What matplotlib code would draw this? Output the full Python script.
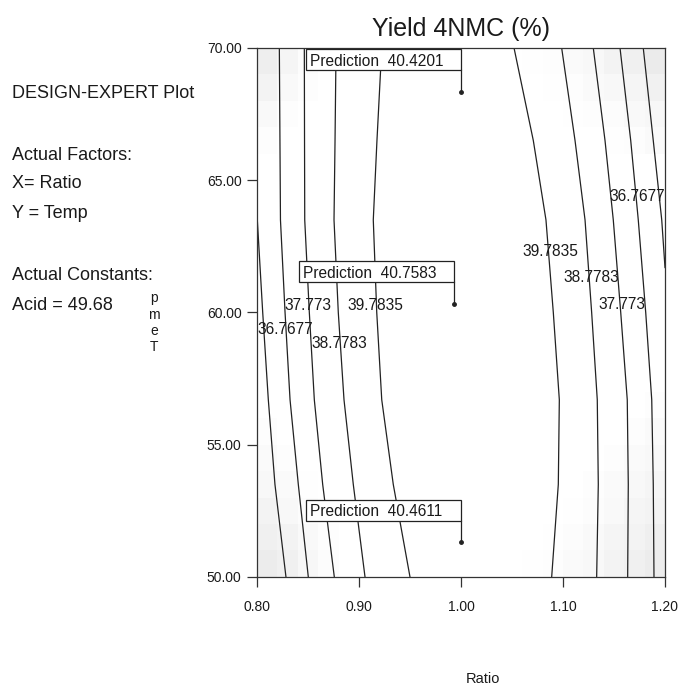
import numpy as np
import matplotlib
matplotlib.use('Agg')
import matplotlib.pyplot as plt
from matplotlib.patches import Rectangle

# contour lines: x (Ratio) at each Temp in ys
ys = [70, 66.5, 63.5, 60, 56.7, 53.5, 50]
left_39 = [0.9223, 0.9176, 0.9140, 0.9174, 0.9223, 0.9336, 0.9500]
left_38 = [0.8775, 0.8765, 0.8755, 0.8797, 0.8853, 0.8944, 0.9059]
left_37 = [0.8464, 0.8466, 0.8468, 0.8513, 0.8562, 0.8644, 0.8758]
left_36 = [0.8219, 0.8225, 0.8230, 0.8275, 0.8324, 0.8405, 0.8503]
left_35_y = [63.7, 60, 56.7, 53.5, 50]
left_35 = [0.8000, 0.8056, 0.8111, 0.8176, 0.8284]
right_39 = [1.0520, 1.0709, 1.0833, 1.0905, 1.0964, 1.0954, 1.0889]
right_38 = [1.0987, 1.1118, 1.1216, 1.1281, 1.1336, 1.1346, 1.1330]
right_37 = [1.1297, 1.1412, 1.1493, 1.1566, 1.1630, 1.1640, 1.1634]
right_36 = [1.1559, 1.1664, 1.1738, 1.1811, 1.1870, 1.1885, 1.1892]
right_35_y = [70, 66.5, 63.5, 61.7]
right_35 = [1.1787, 1.1885, 1.1968, 1.2000]

# contour labels
label_text = ['36.7677', '37.773', '39.7835', '38.7783',
              '39.7835', '38.7783', '37.773', '36.7677']
label_pos = [(0.8275, 59.34), (0.8503, 60.28), (0.9157, 60.28), (0.8804, 58.83),
             (1.0873, 62.3), (1.1275, 61.34), (1.1581, 60.32), (1.1730, 64.37)]

# prediction flags
pred_x = [1.00, 0.993, 1.00]
pred_y = [68.33, 60.32, 51.31]
pred_val = ['40.4201', '40.7583', '40.4611']

# background shading (gray level per block, 20 x 20 grid), corners only
corner_tl = [[0.93, 0.96, 0.985],
             [0.955, 0.975, 0.99],
             [0.975, 0.99, 1.0],
             [0.99, 1.0, 1.0]]
corner_tr = [[0.995, 0.99, 0.98, 0.97, 0.955, 0.94, 0.92],
             [1.0, 0.995, 0.99, 0.98, 0.97, 0.96, 0.945],
             [1.0, 1.0, 0.995, 0.99, 0.985, 0.975, 0.965],
             [1.0, 1.0, 1.0, 1.0, 0.995, 0.99, 0.98]]
corner_bl = [[0.99, 1.0, 1.0, 1.0],
             [0.98, 0.99, 1.0, 1.0],
             [0.97, 0.98, 0.995, 1.0],
             [0.955, 0.97, 0.985, 0.995],
             [0.94, 0.955, 0.975, 0.99],
             [0.925, 0.94, 0.965, 0.985]]
corner_br = [[1, 1, 1, 1, 1, 1, 0.99],
             [1, 1, 1, 1, 1, 0.99, 0.98],
             [1, 1, 1, 1, 0.99, 0.98, 0.97],
             [1, 1, 1, 0.99, 0.98, 0.97, 0.96],
             [1, 1, 0.995, 0.985, 0.975, 0.96, 0.95],
             [1, 0.995, 0.985, 0.975, 0.96, 0.95, 0.935],
             [0.995, 0.99, 0.98, 0.97, 0.955, 0.94, 0.925]]

xticks = [0.80, 0.90, 1.00, 1.10, 1.20]
yticks = [50, 55, 60, 65, 70]

side_lines = ['DESIGN-EXPERT Plot', 'Actual Factors:', 'X= Ratio', 'Y = Temp',
              'Actual Constants:', 'Acid = 49.68']

font = 'Liberation Sans'
ink = '#1a1a1a'
lc = '#222222'

fig = plt.figure(figsize=(6.82, 6.92), dpi=100)
ax = fig.add_axes([257 / 682, 1 - 577 / 692, 408 / 682, 529 / 692])

shade = np.ones((20, 20))
shade[0:4, 0:3] = corner_tl
shade[0:4, 13:20] = corner_tr
shade[14:20, 0:4] = corner_bl
shade[13:20, 13:20] = corner_br
ax.imshow(shade, extent=[0.8, 1.2, 50, 70], cmap='gray', vmin=0, vmax=1,
          aspect='auto', interpolation='nearest', zorder=0)

for xs in [left_39, left_38, left_37, left_36, right_39, right_38, right_37, right_36]:
    ax.plot(xs, ys, color=lc, lw=0.9, zorder=2)
ax.plot(left_35, left_35_y, color=lc, lw=0.9, zorder=2)
ax.plot(right_35, right_35_y, color=lc, lw=0.9, zorder=2)

for t, (lx, ly) in zip(label_text, label_pos):
    ax.text(lx, ly, t, ha='center', va='center', fontsize=11.2,
            family=font, color=ink, zorder=3)

bw, bh, gap = 0.152, 0.80, 0.82
for px, py, v in zip(pred_x, pred_y, pred_val):
    ax.plot([px, px], [py, py + gap], color=lc, lw=0.9, zorder=4)
    ax.plot(px, py, 'o', color=lc, ms=2.5, zorder=4)
    ax.add_patch(Rectangle((px - bw, py + gap), bw, bh, facecolor='white',
                           edgecolor=lc, lw=0.9, zorder=5, clip_on=False))
    ax.text(px - bw + 0.004, py + gap + 0.34, 'Prediction  ' + v, ha='left',
            va='center', fontsize=11.2, family=font, color=ink, zorder=6)

ax.set_xlim(0.8, 1.2)
ax.set_ylim(50, 70)
ax.set_xticks(xticks)
ax.set_xticklabels([f'{v:.2f}' for v in xticks])
ax.set_yticks(yticks)
ax.set_yticklabels([f'{v:.2f}' for v in yticks])
ax.tick_params(axis='y', direction='out', length=7.5, width=0.9, pad=3.6,
               colors='#333333', labelsize=10, labelcolor=ink)
ax.tick_params(axis='x', direction='out', length=7.5, width=0.9, pad=9,
               colors='#333333', labelsize=10, labelcolor=ink)
for lab in ax.get_xticklabels() + ax.get_yticklabels():
    lab.set_family(font)
for s in ax.spines.values():
    s.set_color('#333333')
    s.set_linewidth(0.9)

ax.set_title('Yield 4NMC (%)', fontsize=18, family=font, color=ink, pad=8.6)

# left info panel
side_y = [93, 155, 183, 213, 275, 305]
for t, yy in zip(side_lines, side_y):
    fig.text(12 / 682, 1 - yy / 692, t, ha='left', va='center', fontsize=13,
             family=font, color=ink)

# stacked y label and x label
for ch, yy in zip(['p', 'm', 'e', 'T'], [298, 315, 331, 347]):
    fig.text(154 / 682, 1 - yy / 692, ch, ha='center', va='center',
             fontsize=10, family=font, color=ink)
fig.text(483 / 682, 1 - 679 / 692, 'Ratio', ha='center', va='center',
         fontsize=10.5, family=font, color=ink)

fig.savefig('out.png', dpi=100)
